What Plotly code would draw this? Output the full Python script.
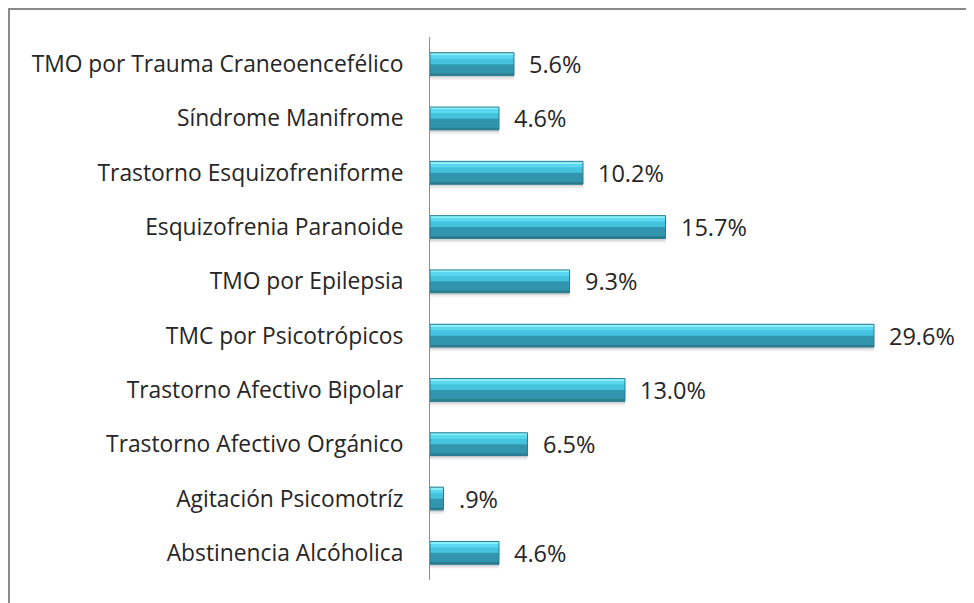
import plotly.graph_objects as go

categories = [
    "Abstinencia Alcóholica",
    "Agitación Psicomotríz",
    "Trastorno Afectivo Orgánico",
    "Trastorno Afectivo Bipolar",
    "TMC por Psicotrópicos",
    "TMO por Epilepsia",
    "Esquizofrenia Paranoide",
    "Trastorno Esquizofreniforme",
    "Síndrome Manifrome",
    "TMO por Trauma Craneoencefélico",
]
values = [4.6, 0.9, 6.5, 13.0, 29.6, 9.3, 15.7, 10.2, 4.6, 5.6]
value_labels = ["4.6%", ".9%", "6.5%", "13.0%", "29.6%", "9.3%", "15.7%", "10.2%", "4.6%", "5.6%"]

FONT = "Open Sans"
FS = 22.8
FSV = 23.5
BW = 0.42  # bar thickness in category units
H = BW / 2


def layer(offset, width, color):
    return go.Bar(y=categories, x=values, orientation="h", width=width, offset=offset,
                  marker=dict(color=color, line=dict(width=0)),
                  hoverinfo="skip", showlegend=False)


fig = go.Figure()
# soft shadow beneath each bar
fig.add_trace(layer(-H - 0.075, 0.075, "rgba(0,0,0,0.07)"))
fig.add_trace(layer(-H - 0.04, 0.04, "rgba(0,0,0,0.10)"))
# body layers (dark bottom -> bright top)
fig.add_trace(layer(-H, BW, "#3aa9c3"))
fig.add_trace(layer(-H, H, "#3195ad"))
fig.add_trace(layer(-H, 0.04, "#2a7c90"))
fig.add_trace(layer(0.0, H, "#45c3de"))
fig.add_trace(layer(H - 0.11, 0.08, "#5ad8ef"))
fig.add_trace(layer(H - 0.035, 0.035, "#8cf0fb"))
# thin outline
fig.add_trace(go.Bar(y=categories, x=values, orientation="h", width=BW, offset=-H,
                     marker=dict(color="rgba(0,0,0,0)", line=dict(color="#2a7d91", width=1)),
                     hoverinfo="skip", showlegend=False))

annotations = [
    dict(x=v, y=c, text=t, xref="x", yref="y", showarrow=False, xanchor="left", xshift=13,
         font=dict(family=FONT, size=FSV, color="#262626"))
    for c, v, t in zip(categories, values, value_labels)
]

fig.update_layout(
    width=974, height=603,
    margin=dict(l=422, r=72, t=29, b=31),
    paper_bgcolor="white", plot_bgcolor="white",
    barmode="overlay",
    font=dict(family=FONT, size=FS, color="#262626"),
    xaxis=dict(range=[0, 32], visible=False, fixedrange=True),
    yaxis=dict(showline=True, linecolor="#8c8c8c", linewidth=1, ticks="", ticklabelstandoff=21,
               showgrid=False, zeroline=False, tickfont=dict(family=FONT, size=FS, color="#262626")),
    annotations=annotations,
    shapes=[
        dict(type="line", xref="paper", yref="paper", x0=-422 / 480, x1=1.3, y0=1 + 28 / 543, y1=1 + 28 / 543,
             line=dict(color="#8a8a8a", width=2)),
        dict(type="line", xref="paper", yref="paper", x0=-421 / 480, x1=-421 / 480, y0=-0.1, y1=1 + 28 / 543,
             line=dict(color="#8a8a8a", width=2)),
    ],
)

fig.write_html("out.html")
